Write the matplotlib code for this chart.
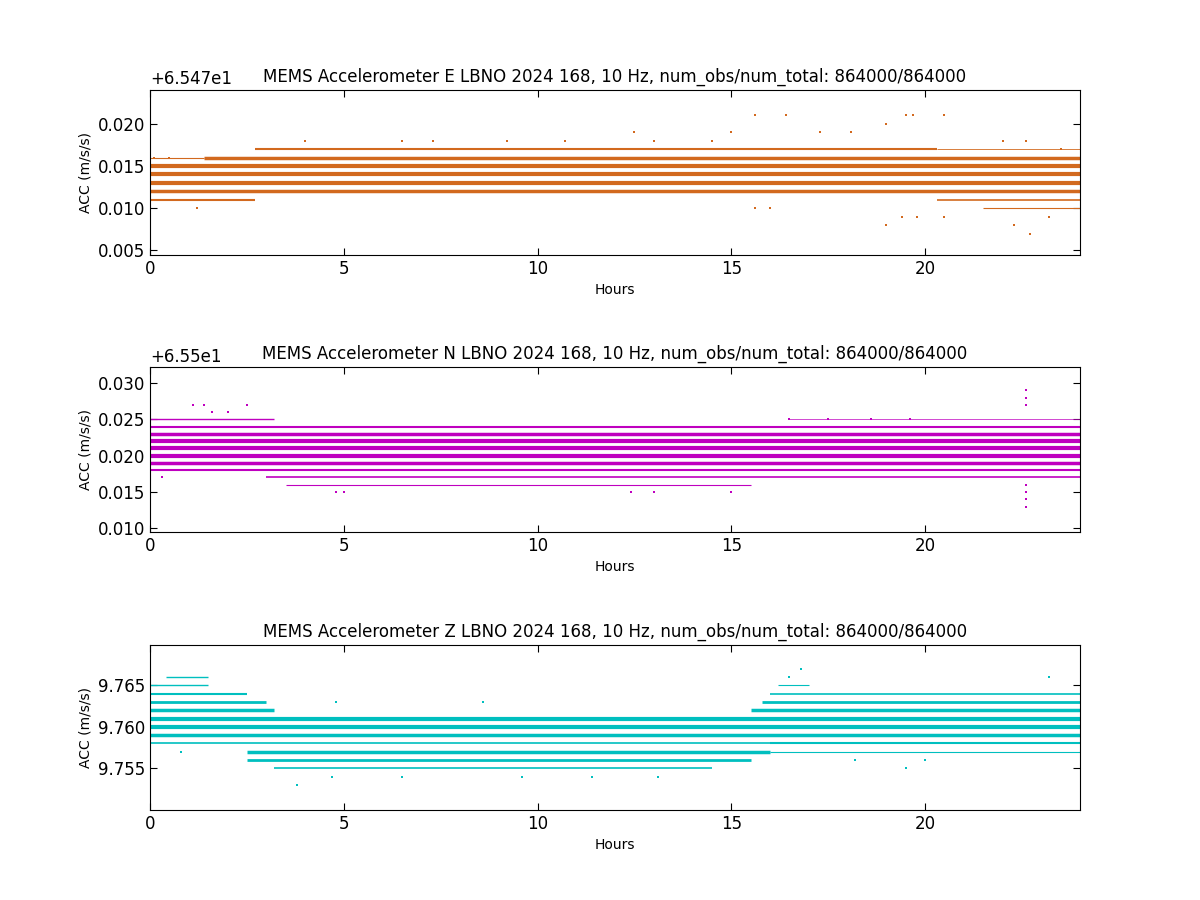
import matplotlib
matplotlib.use("Agg")
import matplotlib.pyplot as plt
from matplotlib.ticker import FuncFormatter

# Each panel: offset base, levels as (value above base, start hour, end hour, density weight)
E_base = 65.47
E_offset_label = "+6.547e1"
E_levels = [(0.011, 0, 2.7, 1.5), (0.011, 20.3, 24, 1.2), (0.012, 0, 24, 2.5), (0.013, 0, 24, 3),
            (0.014, 0, 24, 3), (0.015, 0, 24, 3), (0.016, 1.4, 24, 2.5), (0.017, 2.7, 20.3, 1.5),
            (0.010, 21.5, 24, 0.8), (0.017, 20.3, 24, 0.6), (0.016, 0, 1.4, 0.8)]
E_out_x = [0.1, 0.5, 1.2, 4.0, 6.5, 7.3, 9.2, 10.7, 12.5, 15.0, 15.6, 16.4, 17.3, 18.1, 19.0, 19.5, 19.7, 20.5, 22.0, 22.6, 23.5,
           15.6, 16.0, 19.0, 19.4, 19.8, 20.5, 22.3, 22.7, 23.2, 13.0, 14.5]
E_out_y = [0.016, 0.016, 0.010, 0.018, 0.018, 0.018, 0.018, 0.018, 0.019, 0.019, 0.021, 0.021, 0.019, 0.019, 0.020, 0.021, 0.021, 0.021, 0.018, 0.018, 0.017,
           0.010, 0.010, 0.008, 0.009, 0.009, 0.009, 0.008, 0.007, 0.009, 0.018, 0.018]

N_base = 65.5
N_offset_label = "+6.55e1"
N_levels = [(0.018, 0, 24, 1.5), (0.019, 0, 24, 2.5), (0.020, 0, 24, 3), (0.021, 0, 24, 3),
            (0.022, 0, 24, 3), (0.023, 0, 24, 2.5), (0.024, 0, 24, 1.5), (0.017, 3.0, 24, 1.2),
            (0.025, 0, 3.2, 1.0), (0.025, 16.5, 24, 0.5), (0.016, 3.5, 15.5, 0.8)]
N_out_x = [1.1, 1.4, 1.6, 2.0, 2.5, 0.3, 4.8, 5.0, 12.4, 13.0, 15.0, 16.5, 17.5, 18.6, 19.6, 22.6, 22.6, 22.6, 22.6, 22.6, 22.6, 22.6]
N_out_y = [0.027, 0.027, 0.026, 0.026, 0.027, 0.017, 0.015, 0.015, 0.015, 0.015, 0.015, 0.025, 0.025, 0.025, 0.025, 0.029, 0.028, 0.027, 0.016, 0.015, 0.014, 0.013]

Z_base = 0.0
Z_offset_label = ""
Z_levels = [(9.758, 0, 24, 1.2), (9.759, 0, 24, 2.5), (9.760, 0, 24, 3), (9.761, 0, 24, 3),
            (9.757, 2.5, 16, 2.5), (9.756, 2.5, 15.5, 2), (9.755, 3.2, 14.5, 1.2),
            (9.762, 0, 3.2, 2.5), (9.762, 15.5, 24, 2.5), (9.763, 0, 3.0, 2), (9.763, 15.8, 24, 2),
            (9.764, 0, 2.5, 1.5), (9.764, 16.0, 24, 1.2), (9.765, 0, 1.5, 1), (9.765, 16.2, 17, 0.8),
            (9.766, 0.4, 1.5, 1), (9.757, 16, 24, 0.8), (9.758, 16, 24, 1.5)]
Z_out_x = [3.8, 4.7, 6.5, 9.6, 11.4, 13.1, 16.8, 16.5, 18.2, 19.5, 20.0, 23.2, 0.8, 4.8, 8.6]
Z_out_y = [9.753, 9.754, 9.754, 9.754, 9.754, 9.754, 9.767, 9.766, 9.756, 9.755, 9.756, 9.766, 9.757, 9.763, 9.763]

panels = [
    ("E", E_base, E_offset_label, E_levels, E_out_x, E_out_y, "#d2691e", (0.0045, 0.024), [0.005, 0.010, 0.015, 0.020]),
    ("N", N_base, N_offset_label, N_levels, N_out_x, N_out_y, "#bf00bf", (0.0095, 0.0322), [0.010, 0.015, 0.020, 0.025, 0.030]),
    ("Z", Z_base, Z_offset_label, Z_levels, Z_out_x, Z_out_y, "#00bfbf", (9.750, 9.7698), [9.755, 9.760, 9.765]),
]

fig = plt.figure(figsize=(12, 9), dpi=100)
bottoms = [0.717, 0.409, 0.1]
for (name, base, olab, levels, ox, oy, col, ylim, yt), b in zip(panels, bottoms):
    ax = fig.add_axes([0.125, b, 0.775, 0.183])
    for (v, s, e, w) in levels:
        ax.hlines(base + v, s, e, colors=col, linewidth=w)
    ax.scatter(ox, [base + y for y in oy], s=3, marker='s', color=col, linewidths=0)
    ax.set_xlim(0, 24)
    ax.set_ylim(base + ylim[0], base + ylim[1])
    ax.set_yticks([base + t for t in yt])
    ax.set_xticks([0, 5, 10, 15, 20])
    ax.tick_params(direction='in', top=True, right=True, labelsize=12, length=5)
    ax.yaxis.set_major_formatter(FuncFormatter(lambda x, p, base=base: f"{x - base:.3f}"))
    if olab:
        ax.text(0.0, 1.01, olab, transform=ax.transAxes, fontsize=12, ha='left', va='bottom')
    ax.set_xlabel("Hours", fontsize=10)
    ax.set_ylabel("ACC (m/s/s)", fontsize=10)
    ax.set_title(f"MEMS Accelerometer {name} LBNO 2024 168, 10 Hz, num_obs/num_total: 864000/864000", fontsize=12)

fig.savefig("out.png", dpi=100)
